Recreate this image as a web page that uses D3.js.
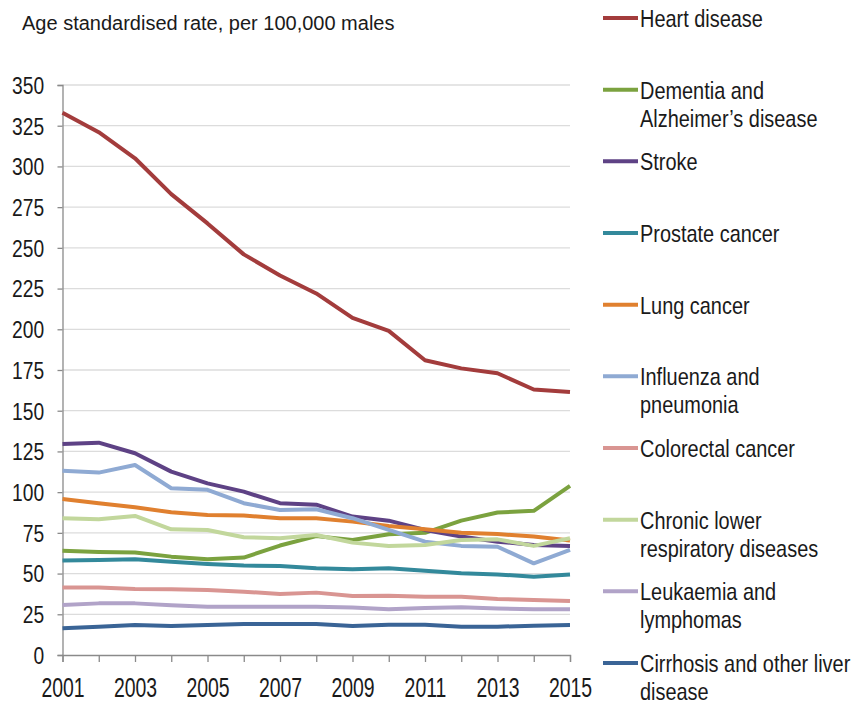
<!DOCTYPE html>
<html>
<head>
<meta charset="utf-8">
<script src="https://cdn.jsdelivr.net/npm/d3@7"></script>
<style>
  body { margin: 0; background: #fff; }
  svg text { font-family: "Liberation Sans", Arial, sans-serif; fill: #1a1a1a; }
</style>
</head>
<body>
<script>
const years = d3.range(2001, 2016)
const yTicks = d3.range(0, 351, 25)
const xTickLabels = [2001, 2003, 2005, 2007, 2009, 2011, 2013, 2015]

const names = ["Heart disease", "Dementia and|Alzheimer\u2019s disease", "Stroke", "Prostate cancer", "Lung cancer",
  "Influenza and|pneumonia", "Colorectal cancer", "Chronic lower|respiratory diseases", "Leukaemia and|lymphomas",
  "Cirrhosis and other liver|disease"]
const colors = ["#a33c3c", "#7ba23f", "#5e4285", "#33899b", "#e0802f", "#8faad3", "#d99592", "#c2d79c", "#b1a3c8", "#3a6496"]

const heart = [333, 321, 305, 283, 265, 246, 233, 222, 207, 199, 181, 176, 173, 163, 161.5]
const dementia = [64, 63.3, 62.9, 60.4, 58.8, 59.8, 67.2, 73, 70.6, 74.2, 75, 82.5, 87.5, 88.5, 103.8]
const stroke = [129.6, 130.4, 123.9, 112.6, 105.4, 100.3, 93.2, 92.3, 85, 82.5, 76.8, 72.7, 69.6, 67.6, 67]
const prostate = [58, 58.4, 58.8, 57.3, 55.9, 54.9, 54.7, 53.2, 52.6, 53.2, 51.8, 50.2, 49.5, 48.1, 49.5]
const lung = [95.8, 93.2, 90.7, 87.6, 86, 85.6, 84, 84, 81.9, 79.2, 77.2, 75.1, 74.3, 72.7, 70.3]
const influenza = [113.2, 112, 116.7, 102.4, 101.4, 93.2, 89, 89.5, 84, 76.8, 69.6, 67, 66.5, 56.3, 64.5]
const colorectal = [41.4, 41.4, 40.5, 40.3, 39.9, 38.9, 37.5, 38.3, 36.2, 36.4, 35.8, 35.8, 34.4, 33.8, 33.2]
const chronic = [84, 83.3, 85.4, 77.2, 76.8, 72.3, 71.7, 73.7, 69, 67, 67.6, 70.6, 71, 67, 71.7]
const leukaemia = [30.7, 31.7, 31.7, 30.5, 29.7, 29.7, 29.7, 29.7, 29.1, 28.1, 28.9, 29.3, 28.5, 28.1, 28.1]
const cirrhosis = [16.4, 17.4, 18.4, 17.8, 18.4, 19, 19, 19, 17.8, 18.6, 18.6, 17.4, 17.4, 18, 18.4]

const series = [heart, dementia, stroke, prostate, lung, influenza, colorectal, chronic, leukaemia, cirrhosis]

function draw(){
  const width = 859
  const height = 705
  const svg = d3.select("body").append("svg")
    .attr("width", width)
    .attr("height", height)

  const x = d3.scaleLinear().domain([2001, 2015]).range([62.5, 570])
  const y = d3.scaleLinear().domain([0, 350]).range([655, 85])

  svg.append("text")
    .attr("x", 22)
    .attr("y", 30)
    .attr("font-size", 20)
    .text("Age standardised rate, per 100,000 males")

  // gridlines
  svg.append("g")
    .selectAll("line")
    .data(yTicks.filter(d => d > 0))
    .join("line")
    .attr("x1", x(2001))
    .attr("x2", x(2015))
    .attr("y1", d => y(d))
    .attr("y2", d => y(d))
    .attr("stroke", "#dcdcdc")
    .attr("stroke-width", 1.3)

  // narrow-looking labels: regular font squeezed sideways
  const yAxis = svg.append("g")
    .attr("transform", `translate(${x(2001)},0)`)
    .call(d3.axisLeft(y).tickValues(yTicks).tickSize(5))
  yAxis.select(".domain").attr("stroke", "#8a8a8a").attr("stroke-width", 1.3)
  yAxis.selectAll(".tick line").attr("stroke", "#8a8a8a").attr("stroke-width", 1.3)
  yAxis.selectAll("text")
    .attr("font-size", 24)
    .attr("font-family", null)
    .attr("fill", "#1a1a1a")
    .attr("x", -23)
    .attr("dy", "0.35em")
    .attr("transform", "scale(0.8,1)")

  const xAxis = svg.append("g")
    .attr("transform", `translate(0,${y(0)})`)
    .call(d3.axisBottom(x).tickValues(years).tickSize(7)
      .tickFormat(d => xTickLabels.includes(d) ? d : ""))
  xAxis.select(".domain").attr("stroke", "#8a8a8a").attr("stroke-width", 1.3)
  xAxis.selectAll(".tick line").attr("stroke", "#8a8a8a").attr("stroke-width", 1.3)
  xAxis.selectAll("text")
    .attr("font-size", 27)
    .attr("font-family", null)
    .attr("fill", "#1a1a1a")
    .attr("y", 42)
    .attr("dy", null)
    .attr("transform", "scale(0.72,1)")

  const line = d3.line()
    .x((d, i) => x(years[i]))
    .y(d => y(d))

  svg.append("g")
    .selectAll("path")
    .data(series)
    .join("path")
    .attr("d", d => line(d))
    .attr("fill", "none")
    .attr("stroke", (d, i) => colors[i])
    .attr("stroke-width", 4)
    .attr("stroke-linejoin", "round")

  // legend
  const legendY = d3.scaleLinear().domain([0, 9]).range([18, 663])
  const item = svg.append("g")
    .selectAll("g")
    .data(names)
    .join("g")
    .attr("transform", (d, i) => `translate(603,${legendY(i)})`)

  item.append("line")
    .attr("x1", 0)
    .attr("x2", 35)
    .attr("stroke", (d, i) => colors[i])
    .attr("stroke-width", 4)

  item.append("text")
    .attr("transform", "translate(37,0) scale(0.83,1)")
    .attr("font-size", 24)
    .selectAll("tspan")
    .data(d => d.split("|"))
    .join("tspan")
    .attr("x", 0)
    .attr("y", (d, i) => 9 + i * 28)
    .text(d => d)
}

draw()
</script>
</body>
</html>
